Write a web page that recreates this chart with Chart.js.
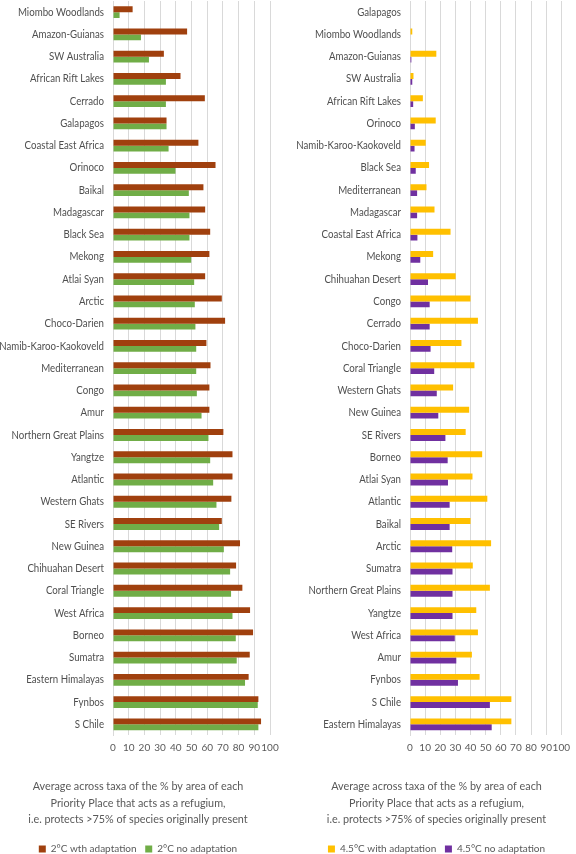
<!DOCTYPE html>
<html>
<head>
<meta charset="utf-8">
<script src="https://cdn.jsdelivr.net/npm/chart.js@4/dist/chart.umd.min.js"></script>
<style>
html,body{margin:0;padding:0;background:#fff;overflow:hidden;}
#wrap{position:relative;width:576px;height:854px;overflow:hidden;}
.box{position:absolute;top:0;width:288px;height:864px;}
</style>
</head>
<body>
<div id="wrap">
  <div class="box" style="left:0"><canvas id="c1"></canvas></div>
  <div class="box" style="left:288px"><canvas id="c2"></canvas></div>
</div>
<script>
const leftCategories = ["Miombo Woodlands","Amazon-Guianas","SW Australia","African Rift Lakes","Cerrado","Galapagos","Coastal East Africa","Orinoco","Baikal","Madagascar","Black Sea","Mekong","Atlai Syan","Arctic","Choco-Darien","Namib-Karoo-Kaokoveld","Mediterranean","Congo","Amur","Northern Great Plains","Yangtze","Atlantic","Western Ghats","SE Rivers","New Guinea","Chihuahan Desert","Coral Triangle","West Africa","Borneo","Sumatra","Eastern Himalayas","Fynbos","S Chile"];
const left2CWithAdaptation = [12.5,47.2,32.4,43,58.5,34.1,54.4,65.3,57.6,58.7,61.9,61.4,58.7,69.3,71.4,59.5,62.1,61.4,61.4,70.3,76.1,76.1,75.4,69.3,80.9,78.4,82.4,87.3,89.2,87.1,86.4,92.6,94.3];
const left2CNoAdaptation = [4.2,17.8,22.9,33.7,33.7,34.1,35.4,39.8,48.3,48.7,48.7,49.8,51.7,52.1,52.5,53,53,53.4,56.4,60.8,61.9,63.8,65.9,67.6,70.6,74.6,75.2,76.1,78.2,78.8,84.1,92.2,92.6];

const rightCategories = ["Galapagos","Miombo Woodlands","Amazon-Guianas","SW Australia","African Rift Lakes","Orinoco","Namib-Karoo-Kaokoveld","Black Sea","Mediterranean","Madagascar","Coastal East Africa","Mekong","Chihuahan Desert","Congo","Cerrado","Choco-Darien","Coral Triangle","Western Ghats","New Guinea","SE Rivers","Borneo","Atlai Syan","Atlantic","Baikal","Arctic","Sumatra","Northern Great Plains","Yangtze","West Africa","Amur","Fynbos","S Chile","Eastern Himalayas"];
const right45CWithAdaptation = [0,1.5,17.4,2.3,8.5,17,10.4,12.6,10.9,16.2,26.8,15.3,30.2,40,44.9,34,42.6,28.5,39.1,36.8,47.7,41.3,51.1,40,53.6,41.5,52.8,43.8,44.9,40.9,46,67,67];
const right45CNoAdaptation = [0,0,0.9,1.5,2.1,3.2,3.0,3.8,4.7,4.7,4.9,6.8,11.9,13,13,13.6,16,17.7,18.7,23.4,24.9,25.1,26.2,26.2,27.9,28.1,28.1,28.1,29.6,30.6,31.7,52.8,54];

const xTicks = [0,10,20,30,40,50,60,70,80,90,100];
const captionLines = ["Average across taxa of the % by area of each","Priority Place that acts as a refugium,","i.e. protects >75% of species originally present"];

const FONT = "Lato, 'Open Sans', sans-serif";
const GREY = "#595959";

// draws the category labels slightly condensed (Calibri-like width)
const condensedYLabels = {
  id: 'condensedYLabels',
  afterDraw(chart) {
    const ys = chart.scales.y;
    const ctx = chart.ctx;
    ctx.save();
    ctx.font = '11px ' + FONT;
    ctx.fillStyle = '#4F4F4F';
    ctx.textAlign = 'right';
    ctx.textBaseline = 'middle';
    const xr = ys.right - 9;
    chart.data.labels.forEach((lab, i) => {
      const y = ys.getPixelForTick(i);
      ctx.save();
      ctx.translate(xr, y);
      ctx.scale(0.88, 1);
      ctx.fillText(lab, 0, 0);
      ctx.restore();
    });
    ctx.restore();
  }
};

function makeChart(id, cats, s1, s2, names, colors, padL, padR, yWidth) {
  new Chart(document.getElementById(id), {
    type: 'bar',
    data: {
      labels: cats,
      datasets: [
        {label: names[0], data: s1, backgroundColor: colors[0], borderWidth: 0},
        {label: names[1], data: s2, backgroundColor: colors[1], borderWidth: 0}
      ]
    },
    plugins: [condensedYLabels],
    options: {
      indexAxis: 'y',
      responsive: true,
      maintainAspectRatio: false,
      animation: false,
      layout: {padding: {left: padL, right: padR, top: 1, bottom: 0}},
      datasets: {bar: {barPercentage: 1.0, categoryPercentage: 0.53}},
      scales: {
        x: {
          min: 0, max: 100,
          afterBuildTicks: (ax) => { ax.ticks = xTicks.map(v => ({value: v})); },
          grid: {color: '#D9D9D9', lineWidth: 1, drawTicks: false},
          border: {display: false},
          ticks: {color: GREY, font: {family: FONT, size: 10}, padding: 6, maxRotation: 0, autoSkip: false}
        },
        y: {
          grid: {display: false, drawTicks: false},
          border: {display: true, color: '#D9D9D9'},
          afterFit: (ax) => { ax.width = yWidth; },
          ticks: {display: false, autoSkip: false}
        }
      },
      plugins: {
        tooltip: {enabled: false},
        title: {
          display: true, position: 'bottom', weight: 500,
          text: captionLines,
          color: GREY,
          font: {family: FONT, size: 10.8, weight: 'normal', lineHeight: 1.53},
          padding: {top: 19, bottom: 15}
        },
        legend: {
          position: 'bottom',
          labels: {
            color: GREY, font: {family: FONT, size: 10},
            boxWidth: 7, boxHeight: 7, padding: 1,
            generateLabels: (chart) => {
              const items = Chart.defaults.plugins.legend.labels.generateLabels(chart);
              items[0].text = items[0].text + '   ';
              return items;
            }
          }
        }
      }
    }
  });
}

makeChart('c1', leftCategories, left2CWithAdaptation, left2CNoAdaptation,
  ["2°C wth adaptation", "2°C no adaptation"], ['#A0400E', '#70AD47'], 6, 18, 107);
makeChart('c2', rightCategories, right45CWithAdaptation, right45CNoAdaptation,
  ["4.5°C with adaptation", "4.5°C no adaptation"], ['#FFC000', '#7030A0'], 18, 9, 104);
</script>
</body>
</html>
